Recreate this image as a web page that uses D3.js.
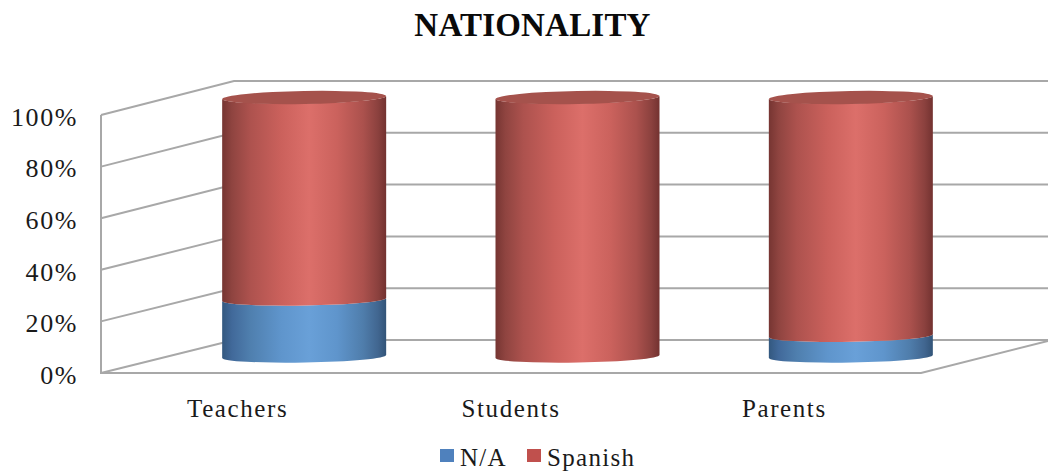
<!DOCTYPE html>
<html><head><meta charset="utf-8">
<script src="https://cdnjs.cloudflare.com/ajax/libs/d3/7.8.5/d3.min.js"></script>
<style>html,body{margin:0;padding:0;background:#fff}svg{display:block}
text{font-family:"Liberation Serif",serif;fill:#1a1a1a}</style></head>
<body><svg id="c" width="1048" height="475"></svg>
<script>
const categories = ["Teachers", "Students", "Parents"];
const naValues = [22, 0, 8];
const spanishValues = [78, 100, 92];
const yTicks = [0, 20, 40, 60, 80, 100];
const seriesNames = ["N/A", "Spanish"];
const seriesColors = ["#4f81bd", "#c0504d"];
const title = "NATIONALITY";

const svg = d3.select("#c");
const yFront = d3.scaleLinear().domain([0,100]).range([373,115]);
const yBack  = d3.scaleLinear().domain([0,100]).range([340,81]);
const yBar   = d3.scaleLinear().domain([0,100]).range([356.5,97.5]);
const xFront = d3.scaleBand().domain(categories).range([101,921]).paddingInner(0.4).paddingOuter(0.2);
const depthX = 133, barShift = 66.5, wallRight = 1048, tilt = 3/165;
const grid = "#a8a8a8";

// gradients
const defs = svg.append("defs");
function grad(id, stops){
  const g = defs.append("linearGradient").attr("id",id);
  stops.forEach(s=>g.append("stop").attr("offset",s[0]).attr("stop-color",s[1]));
}
grad("red",[[0,"#763532"],[.06,"#8f4440"],[.17,"#ad524e"],[.36,"#cb615c"],[.53,"#dc6f6a"],[.7,"#cb625d"],[.86,"#ab514d"],[.95,"#8b413e"],[1,"#733230"]]);
grad("blue",[[0,"#33587f"],[.06,"#41699a"],[.17,"#4f7fae"],[.36,"#5f95cc"],[.53,"#69a0d8"],[.7,"#5f95cc"],[.86,"#4f7dab"],[.95,"#416690"],[1,"#325478"]]);

// walls
const gl = svg.append("g").attr("fill","none").attr("stroke",grid).attr("stroke-width",2);
yTicks.forEach(t=>{
  gl.append("path").attr("d",`M${101},${yFront(t)}L${101+depthX},${yBack(t)}L${wallRight},${yBack(t)}`);
});
gl.append("path").attr("d",`M101,${yFront(100)}V${yFront(0)}H921L${wallRight},${yBack(0)+1}`);

// cylinders
const rx = xFront.bandwidth()/2;
const ry = 6;
function segment(cx,v0,v1){
  const y0=yBar(v0), y1=yBar(v1), d=rx*tilt;
  return `M${cx-rx},${y1+d}`+
    `A${rx},${ry} -1 0 0 ${cx+rx},${y1-d}`+
    `L${cx+rx},${y0-d}`+
    `A${rx},${ry} -1 0 1 ${cx-rx},${y0+d}Z`;
}
const bars = svg.append("g");
categories.forEach((c,i)=>{
  const cx = xFront(c)+xFront.bandwidth()/2+barShift;
  const na = naValues[i], sp = spanishValues[i];
  if(na>0) bars.append("path").attr("d",segment(cx,0,na)).attr("fill","url(#blue)");
  bars.append("path").attr("d",segment(cx,na,na+sp)).attr("fill","url(#red)");
  const top = yBar(na+sp);
  bars.append("ellipse").attr("cx",cx).attr("cy",top).attr("rx",rx).attr("ry",ry+0.5)
    .attr("transform",`rotate(-1.04 ${cx} ${top})`).attr("fill","#a5524c");
});

// axes
const ya = d3.axisLeft(yFront).tickValues(yTicks).tickFormat(d=>d+"%").tickSize(0).tickPadding(0);
const yg = svg.append("g").attr("transform","translate(78,2)").call(ya);
yg.select(".domain").remove();
yg.selectAll("text").attr("font-size",26).attr("letter-spacing",1.6).attr("dy","0.32em").style("fill","#1a1a1a");
const xa = d3.axisBottom(xFront).tickSize(0).tickPadding(0);
const xg = svg.append("g").attr("transform","translate(0,402)").call(xa);
xg.select(".domain").remove();
xg.selectAll("text").attr("font-size",25).attr("letter-spacing",1.6).attr("dy","0.6em").style("fill","#1a1a1a");

// title
svg.append("text").attr("x",532.5).attr("y",36).attr("text-anchor","middle")
  .attr("font-size",33).attr("font-weight","bold").attr("letter-spacing",0.2).style("fill","#0a0a0a").text(title);

// legend
const legendX = [440,527];
seriesNames.forEach((n,i)=>{
  svg.append("rect").attr("x",legendX[i]).attr("y",449).attr("width",14).attr("height",13).attr("fill",seriesColors[i]);
  svg.append("text").attr("x",legendX[i]+20).attr("y",466).attr("font-size",25).attr("letter-spacing",1.3).text(n);
});
</script></body></html>
